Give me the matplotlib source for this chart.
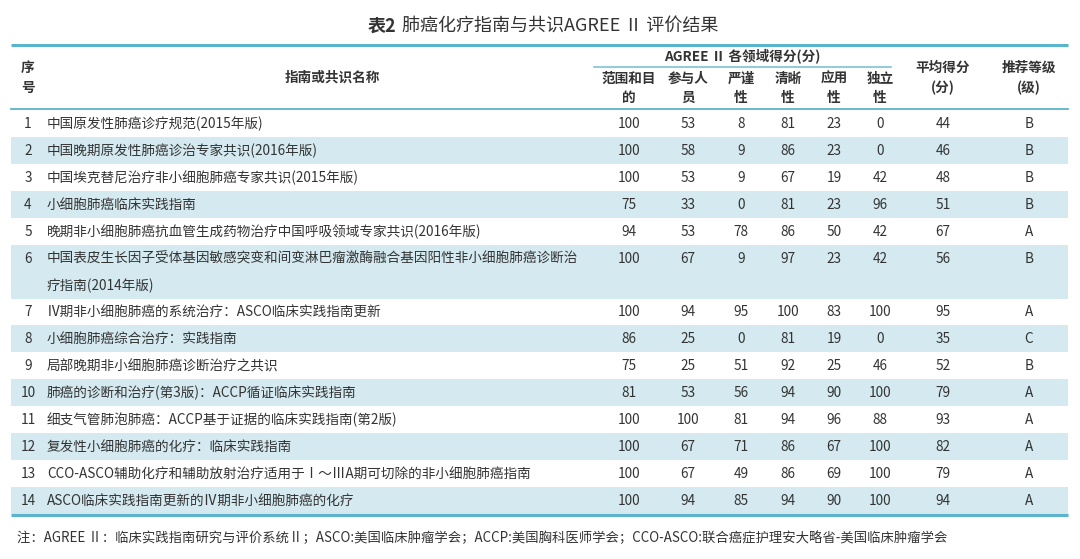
#!/usr/bin/env python3
import matplotlib
matplotlib.use("Agg")
import matplotlib.pyplot as plt

plt.rcParams["font.family"] = ["Noto Sans CJK SC", "DejaVu Sans"]

# table data
seq = list(range(1, 15))
names = [
    ["中国原发性肺癌诊疗规范(2015年版)"],
    ["中国晚期原发性肺癌诊治专家共识(2016年版)"],
    ["中国埃克替尼治疗非小细胞肺癌专家共识(2015年版)"],
    ["小细胞肺癌临床实践指南"],
    ["晚期非小细胞肺癌抗血管生成药物治疗中国呼吸领域专家共识(2016年版)"],
    ["中国表皮生长因子受体基因敏感突变和间变淋巴瘤激酶融合基因阳性非小细胞肺癌诊断治",
     "疗指南(2014年版)"],
    ["Ⅳ期非小细胞肺癌的系统治疗：ASCO临床实践指南更新"],
    ["小细胞肺癌综合治疗：实践指南"],
    ["局部晚期非小细胞肺癌诊断治疗之共识"],
    ["肺癌的诊断和治疗(第3版)：ACCP循证临床实践指南"],
    ["细支气管肺泡肺癌：ACCP基于证据的临床实践指南(第2版)"],
    ["复发性小细胞肺癌的化疗：临床实践指南"],
    ["CCO-ASCO辅助化疗和辅助放射治疗适用于Ⅰ～ⅢA期可切除的非小细胞肺癌指南"],
    ["ASCO临床实践指南更新的Ⅳ期非小细胞肺癌的化疗"],
]
scope = [100, 100, 100, 75, 94, 100, 100, 86, 75, 81, 100, 100, 100, 100]
participants = [53, 58, 53, 33, 53, 67, 94, 25, 25, 53, 100, 67, 67, 94]
rigor = [8, 9, 9, 0, 78, 9, 95, 0, 51, 56, 81, 71, 49, 85]
clarity = [81, 86, 67, 81, 86, 97, 100, 81, 92, 94, 94, 86, 86, 94]
applic = [23, 23, 19, 23, 50, 23, 83, 19, 25, 90, 96, 67, 69, 90]
independ = [0, 0, 42, 96, 42, 42, 100, 0, 46, 100, 88, 100, 100, 100]
mean_score = [44, 46, 48, 51, 67, 56, 95, 35, 52, 79, 93, 82, 79, 94]
grade = ["B", "B", "B", "B", "A", "B", "A", "C", "B", "A", "A", "A", "A", "A"]

sub_headers = [("范围和目", "的"), ("参与人", "员"), ("严谨", "性"),
               ("清晰", "性"), ("应用", "性"), ("独立", "性")]

TEXT = "#333333"
RULE = "#5ab4cc"
SHADE = "#d4e9f0"

fig = plt.figure(figsize=(10.8, 5.59), dpi=100)
ax = fig.add_axes([0, 0, 1, 1])
ax.set_xlim(0, 1080)
ax.set_ylim(559, 0)
ax.axis("off")

# title
ax.text(396, 26, "表2", ha="right", va="center", fontsize=13,
        fontweight="bold", color=TEXT)
ax.text(402, 26, "肺癌化疗指南与共识AGREE Ⅱ 评价结果", ha="left", va="center",
        fontsize=13, color=TEXT)

left, right = 11, 1068
val_x = [629, 688, 741, 788, 834, 880, 943, 1029]

# header
ax.plot([left, right], [45, 45], color=RULE, lw=2.2, solid_capstyle="butt")
hb = dict(fontsize=9.8, fontweight="bold", color=TEXT, ha="center", va="center")
ax.text(28, 68, "序", **hb)
ax.text(28, 88, "号", **hb)
ax.text(332, 78, "指南或共识名称", **hb)
ax.text(742, 56, "AGREE Ⅱ 各领域得分(分)", **hb)
ax.plot([594, 891], [66.5, 66.5], color=RULE, lw=1.2, alpha=0.8)
for x, (a, b) in zip(val_x[:6], sub_headers):
    ax.text(x, 79, a, **hb)
    ax.text(x, 98, b, **hb)
ax.text(val_x[6], 68, "平均得分", **hb)
ax.text(val_x[6], 88, "(分)", **hb)
ax.text(val_x[7], 68, "推荐等级", **hb)
ax.text(val_x[7], 88, "(级)", **hb)
ax.plot([left, right], [108.5, 108.5], color=RULE, lw=1.3)

# body rows
y = 110.0
unit = 26.93
body = dict(fontsize=9.8, color=TEXT, va="center")
for i in range(len(seq)):
    n = len(names[i])
    h = unit * n
    if i % 2 == 1:
        ax.add_patch(plt.Rectangle((left, y), right - left, h, color=SHADE, lw=0))
    yc = y + unit / 2 + 0.5
    ax.text(28, yc, str(seq[i]), ha="center", **body)
    for k, line in enumerate(names[i]):
        ax.text(47, yc + k * unit, line, ha="left", **body)
    vals = [scope[i], participants[i], rigor[i], clarity[i], applic[i],
            independ[i], mean_score[i], grade[i]]
    for x, v in zip(val_x, vals):
        ax.text(x, yc, str(v), ha="center", **body)
    y += h

ax.plot([left, right], [y + 1, y + 1], color=RULE, lw=2.2, solid_capstyle="butt")

ax.text(17, 538, "注：AGREE Ⅱ：临床实践指南研究与评价系统Ⅱ；ASCO:美国临床肿瘤学会；"
        "ACCP:美国胸科医师学会；CCO-ASCO:联合癌症护理安大略省-美国临床肿瘤学会",
        ha="left", va="center", fontsize=9.6, color=TEXT)

fig.savefig("out.png", dpi=100)
